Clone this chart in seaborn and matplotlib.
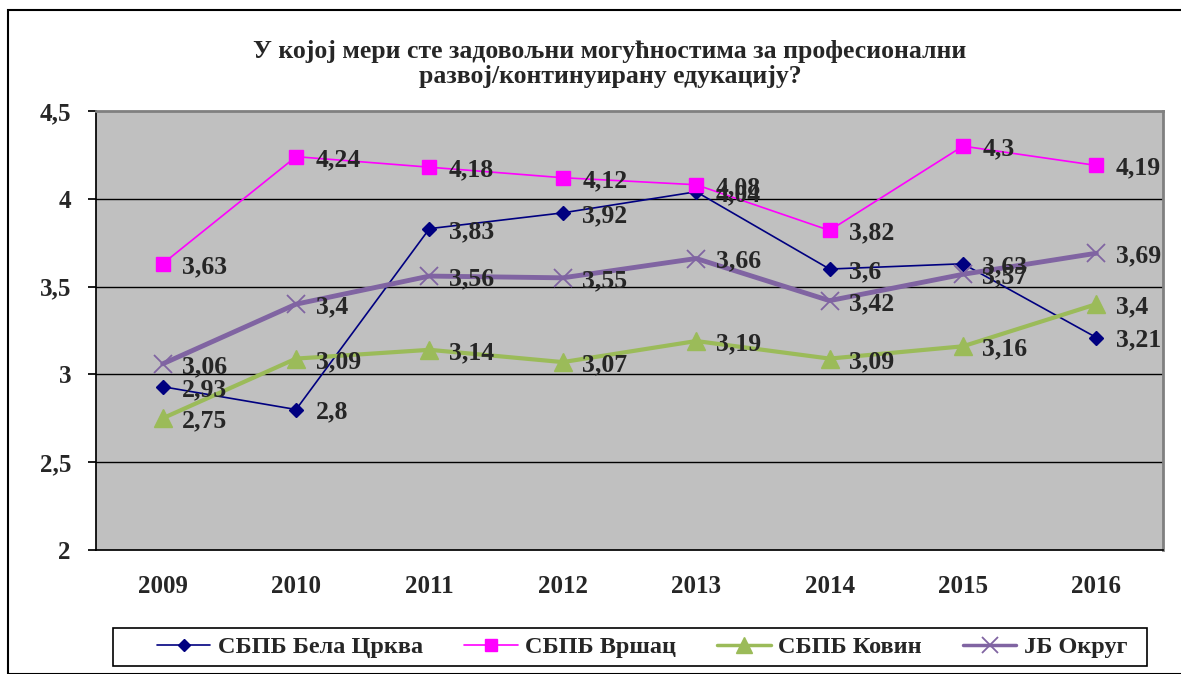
import matplotlib
matplotlib.use("Agg")
import matplotlib.pyplot as plt
import seaborn as sns
import pandas as pd
from matplotlib.patches import Rectangle

years = ["2009", "2010", "2011", "2012", "2013", "2014", "2015", "2016"]
bela_crkva = [2.93, 2.8, 3.83, 3.92, 4.04, 3.6, 3.63, 3.21]
vrsac = [3.63, 4.24, 4.18, 4.12, 4.08, 3.82, 4.3, 4.19]
kovin = [2.75, 3.09, 3.14, 3.07, 3.19, 3.09, 3.16, 3.4]
jb_okrug = [3.06, 3.4, 3.56, 3.55, 3.66, 3.42, 3.57, 3.69]
series_names = ["СБПБ Бела Црква", "СБПБ Вршац", "СБПБ Ковин", "ЈБ Округ"]
title = "У којој мери сте задовољни могућностима за професионални\nразвој/континуирану едукацију?"
yticks = [2, 2.5, 3, 3.5, 4, 4.5]

sns.set_theme(style="white")
plt.rcParams['font.family'] = ['Liberation Serif', 'DejaVu Serif']

rows = []
for name, vals in zip(series_names, [bela_crkva, vrsac, kovin, jb_okrug]):
    for i, (y, v) in enumerate(zip(years, vals)):
        rows.append({"year": y, "x": i, "value": v, "series": name})
df = pd.DataFrame(rows)

fig = plt.figure(figsize=(11.81, 6.74), dpi=100)
ax = fig.add_axes([96/1181, 124/674, 1067/1181, 439/674])
ax.set_facecolor("#C0C0C0")

styles = {
    "СБПБ Бела Црква": dict(color="#000080", marker="D", ms=7, lw=1.2),
    "СБПБ Вршац": dict(color="#FF00FF", marker="s", ms=9.5, lw=1.2),
    "СБПБ Ковин": dict(color="#9BBB59", marker="^", ms=13, lw=3),
    "ЈБ Округ": dict(color="#8064A2", marker="x", ms=13, lw=3.5),
}

handles = []
for name in series_names:
    st = styles[name]
    sub = df[df.series == name]
    sns.lineplot(data=sub, x="x", y="value", ax=ax, color=st["color"], lw=st["lw"],
                 legend=False, zorder=3)
    mk_kw = dict(marker=st["marker"], ms=st["ms"], color=st["color"], ls="none", zorder=4)
    if st["marker"] == "x":
        mk_kw["mew"] = 1.3
    ax.plot(sub["x"], sub["value"], **mk_kw)
    (lh,) = ax.plot([], [], color=st["color"], lw=st["lw"] if st["lw"] < 3 else 2.5,
                    marker=st["marker"], ms=st["ms"] * 0.85, label=name,
                    mew=1.3 if st["marker"] == "x" else 1)
    handles.append(lh)
    for xi, v in zip(sub["x"], sub["value"]):
        ax.annotate(f"{v:g}".replace(".", ","), (xi, v), xytext=(14, -2),
                    textcoords="offset points", fontsize=18.5, fontweight="bold",
                    ha="left", va="center", zorder=5)

ax.set_xlim(-0.5, len(years) - 0.5)
ax.set_ylim(2, 4.5)
ax.set_yticks(yticks)
ax.set_yticklabels([f"{t:g}".replace(".", ",") for t in yticks], fontsize=18, fontweight="bold")
ax.set_xticks(range(len(years)))
ax.set_xticklabels(years, fontsize=18, fontweight="bold")
ax.set_xticks([i - 0.5 for i in range(len(years) + 1)], minor=True)
ax.tick_params(axis="x", which="major", length=0, pad=18)
ax.tick_params(axis="x", which="minor", length=6, direction="out", color="black")
ax.tick_params(axis="y", length=6, direction="out", color="black", left=True, pad=12)
for yv in yticks[1:-1]:
    ax.axhline(yv, color="black", lw=1, zorder=1)
ax.set_xlabel("")
ax.set_ylabel("")
for s in ["top", "right"]:
    ax.spines[s].set_color("#808080")
    ax.spines[s].set_linewidth(2)
ax.spines["left"].set_color("black")
ax.spines["bottom"].set_color("black")

fig.text(610/1181, 1 - 64/674, title, ha="center", va="center", fontsize=18.5,
         fontweight="bold", linespacing=1.1)

leg = fig.legend(handles=handles, loc="center", bbox_to_anchor=(642/1181, 1 - 647/674),
                 ncol=4, frameon=False, prop={"weight": "bold", "size": 17.5},
                 handlelength=2.2, handletextpad=0.3, columnspacing=1.7,
                 borderpad=0.35)

fig.patches.append(Rectangle((113/1181, 1 - 666/674), 1034/1181, 38/674,
                             transform=fig.transFigure, fill=False, edgecolor="black", lw=1.2))
fig.patches.append(Rectangle((8/1181, 0), 1, 1 - 10/674, transform=fig.transFigure,
                             fill=False, edgecolor="black", lw=1.5))

fig.savefig("out.png", dpi=100)
